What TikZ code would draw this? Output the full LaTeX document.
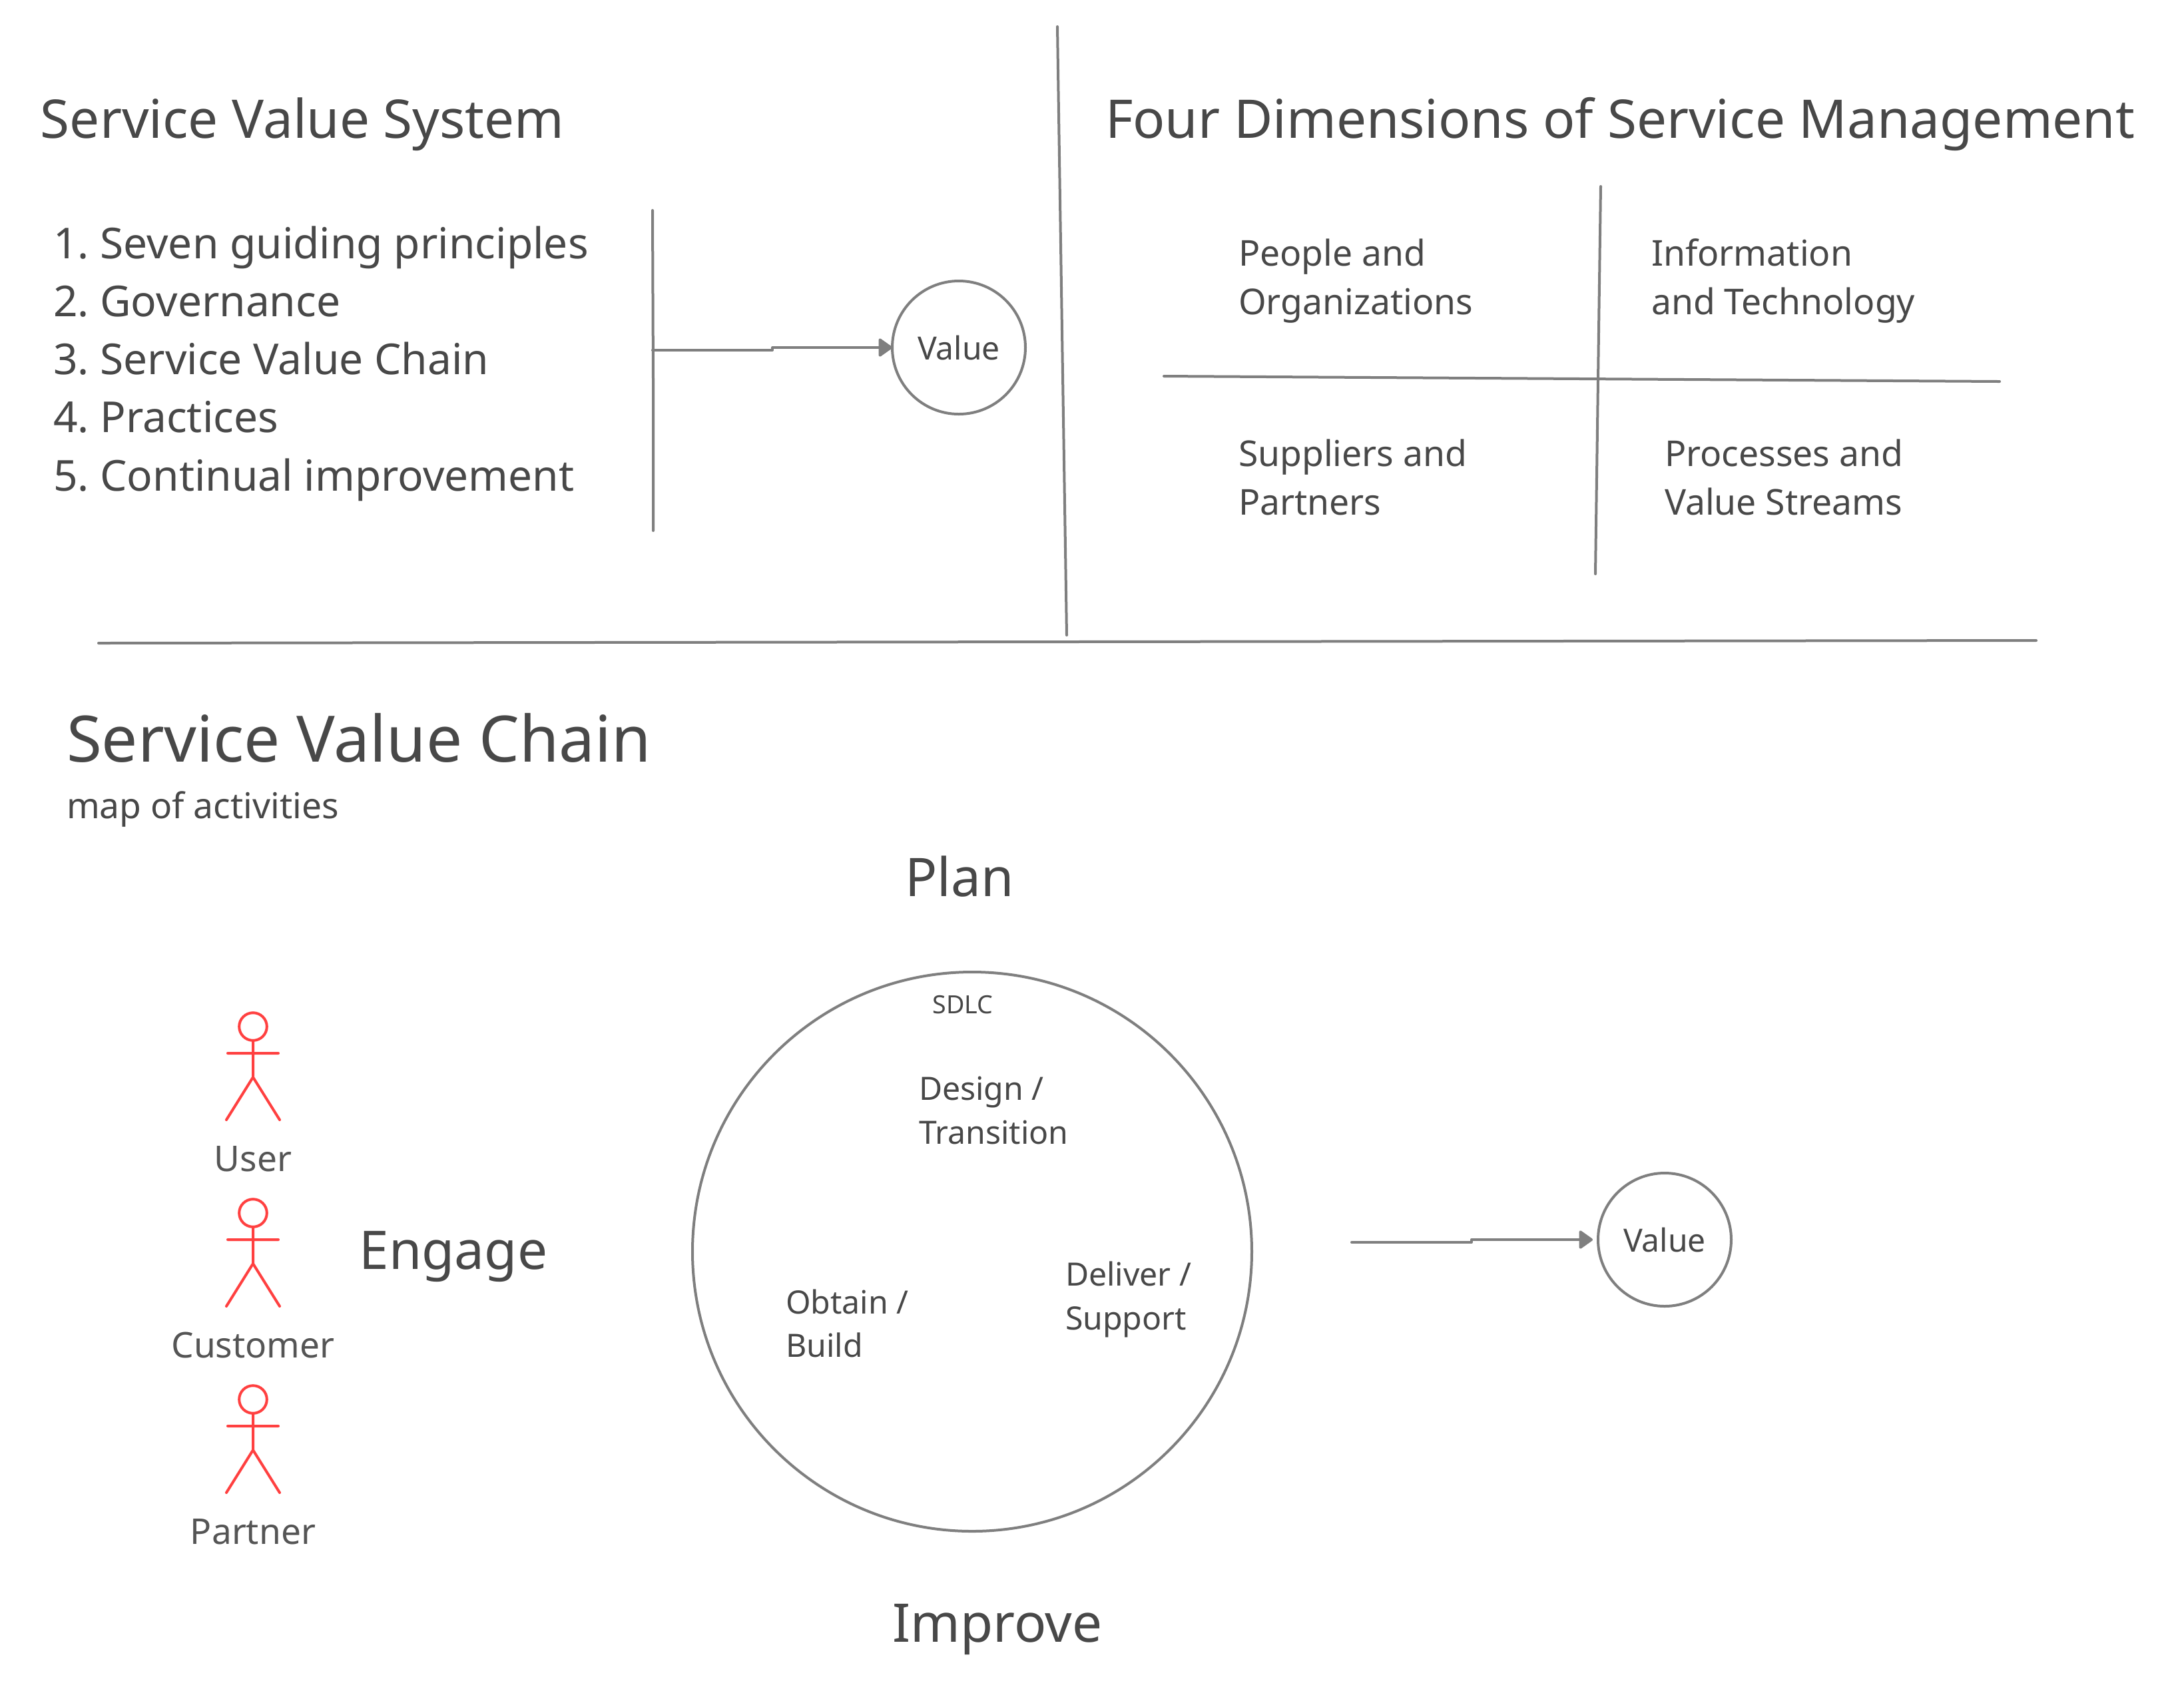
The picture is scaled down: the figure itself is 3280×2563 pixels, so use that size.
\documentclass[tikz,border=0pt]{standalone}
\usepackage{fontspec}
\setmainfont{Noto Sans}
\frenchspacing
\usetikzlibrary{arrows.meta}
\definecolor{ink}{HTML}{484848}
\definecolor{softink}{HTML}{555555}
\definecolor{rule}{HTML}{7F7F7F}
\definecolor{actorred}{HTML}{FF4040}
\tikzset{
  x=0.25pt,y=-0.25pt,
  txt/.style={inner sep=0pt,outer sep=0pt,text=ink,align=left,anchor=west},
  ctr/.style={txt,anchor=center,align=center},
  h20/.style={font=\fontsize{20}{27}\selectfont},
  h24/.style={font=\fontsize{24.05}{33}\selectfont},
  body16/.style={font=\fontsize{16}{21.8}\selectfont},
  body14/.style={font=\fontsize{13.36}{18.3}\selectfont},
  body12/.style={font=\fontsize{12.05}{16.3}\selectfont},
  body13/.style={font=\fontsize{13.33}{17}\selectfont},
  tiny9/.style={font=\fontsize{9.4}{12}\selectfont},
  actorlabel/.style={ctr,text=softink,font=\fontsize{13.3}{17}\selectfont},
  rulel/.style={draw=rule,line width=1pt,line cap=round,line join=round},
  arrowl/.style={rulel,-{Triangle[round,length=5.5pt,width=7.5pt]}},
  valuec/.style={circle,draw=rule,line width=1pt,minimum size=50pt,inner sep=0pt,outer sep=0pt,text=ink,font=\fontsize{12}{16.3}\selectfont},
  actor/.pic={
    \draw[draw=actorred,line width=1pt,line cap=round,line join=round]
      (0,-63) circle[radius=5.2pt]
      (0,-42) -- (0,13)
      (-38,-23) -- (38,-23)
      (-40,77) -- (0,13) -- (40,77);
  }
}
\begin{document}
\begin{tikzpicture}
\path[use as bounding box,fill=white] (0,0) rectangle (3280,2563);

% dividers
\coordinate (divTop) at (1588,40);
\coordinate (divBot) at (1602,954);
\coordinate (hzL) at (148,966);
\coordinate (hzR) at (3058,962);
\draw[rulel] (divTop) -- (divBot);
\draw[rulel] (hzL) -- (hzR);

% Service Value System
\node[txt,h20,anchor=base west] (svsTitle) at (61,207) {Service Value System};
\node[txt,body16] (svsList) at (80,546) {1. Seven guiding principles\\2. Governance\\3. Service Value Chain\\4. Practices\\5. Continual improvement};
\coordinate (barTop) at (980,316);
\coordinate (barKink) at (981,570);
\coordinate (barBot) at (981,797);
\draw[rulel] (barTop) -- (barKink) -- (barBot);
\node[valuec] (valueA) at (1440,522) {Value};
\coordinate (barOut) at (980,526);
\coordinate (stepA) at (1160,526);
\coordinate (stepB) at (1160,522);
\draw[arrowl] (barOut) -- (stepA) -- (stepB) -- (valueA.west);

% Four Dimensions
\node[txt,h20,anchor=base west] (fdTitle) at (1660,207) {Four Dimensions of Service Management};
\coordinate (qvT) at (2404,280);
\coordinate (qvB) at (2396,862);
\coordinate (qhL) at (1748,565);
\coordinate (qhR) at (3003,573);
\draw[rulel] (qvT) -- (qvB);
\draw[rulel] (qhL) -- (qhR);
\node[txt,body14] (people) at (1860,422) {People and\\Organizations};
\node[txt,body14] (info) at (2480,422) {Information\\and Technology};
\node[txt,body14] (suppliers) at (1860,717) {Suppliers and\\Partners};
\node[txt,body14] (processes) at (2500,717) {Processes and\\Value Streams};

% Service Value Chain
\node[txt,h24,anchor=base west] (svcTitle) at (100,1144) {Service Value Chain};
\node[txt,body13,anchor=base west] (svcSub) at (100,1229) {map of activities};
\node[ctr,h20] (plan) at (1441,1316) {Plan};
\node[ctr,h20] (improve) at (1498,2448) {Improve};
\node[ctr,h20] (engage) at (681,1888) {Engage};

% Actors
\pic at (380,1605) {actor};
\pic at (380,1885) {actor};
\pic at (380,2165) {actor};
\node[actorlabel] (user) at (380,1741) {User};
\node[actorlabel] (customer) at (380,2020) {Customer};
\node[actorlabel] (partner) at (380,2301) {Partner};

% SDLC circle
\node[circle,draw=rule,line width=1pt,minimum size=210pt,inner sep=0pt,outer sep=0pt] (sdlc) at (1460,1880) {};
\node[ctr,tiny9] (sdlcLabel) at (1446,1509) {SDLC};
\node[txt,body12] (design) at (1380,1668) {Design /\\Transition};
\node[txt,body12] (obtain) at (1180,1988) {Obtain /\\Build};
\node[txt,body12] (deliver) at (1600,1952) {Deliver /\\Support};

% Output
\node[valuec] (valueB) at (2500,1862) {Value};
\coordinate (outStart) at (2030,1866);
\coordinate (stepC) at (2210,1866);
\coordinate (stepD) at (2210,1862);
\draw[arrowl,shorten >=2pt] (outStart) -- (stepC) -- (stepD) -- (valueB.west);
\end{tikzpicture}
\end{document}
